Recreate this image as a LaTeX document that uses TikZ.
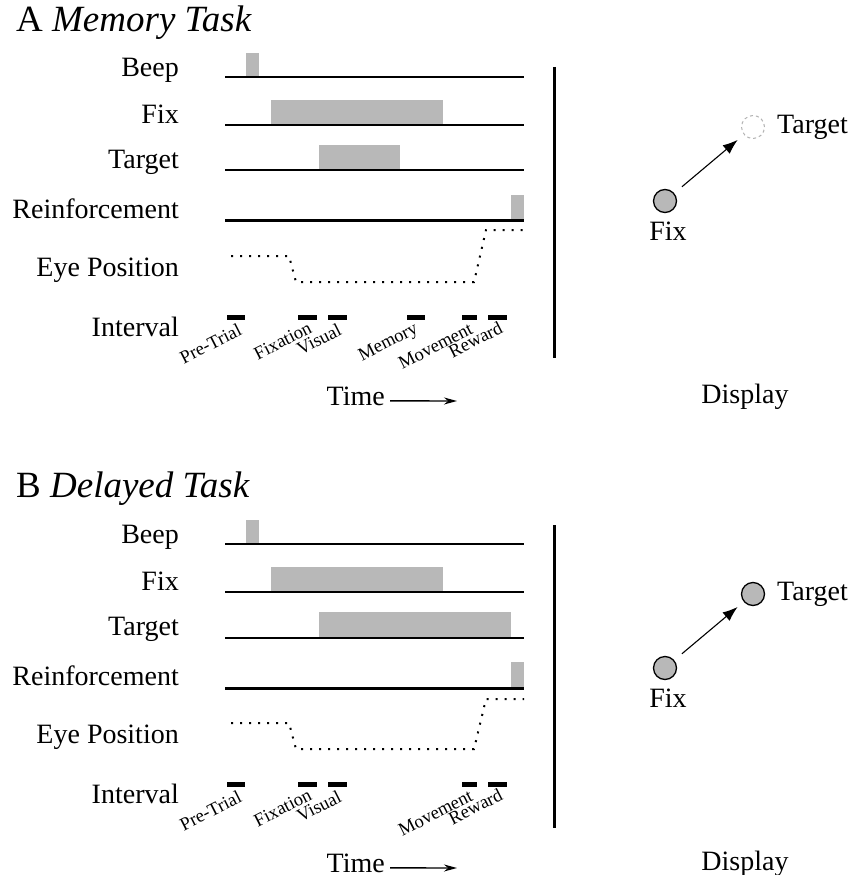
\documentclass[tikz,border=0pt]{standalone}
\usepackage{fontspec}
\setmainfont{Liberation Serif}
\usetikzlibrary{calc, arrows.meta}
\definecolor{pulsegray}{gray}{0.72}

\begin{document}
\begin{tikzpicture}[x=1pt, y=-1pt]
			\tikzstyle{title}=[anchor=base west, inner sep=0pt, font=\fontsize{37}{37}\selectfont]
			\tikzstyle{row}=[anchor=base east, inner sep=0pt, font=\fontsize{28}{28}\selectfont]
			\tikzstyle{screenlab}=[inner sep=0pt, font=\fontsize{28}{28}\selectfont]
			\tikzstyle{phase}=[anchor=base east, inner sep=0pt, rotate=27, font=\fontsize{18.5}{18.5}\selectfont]
			\tikzstyle{track}=[line width=2.2pt]
			\tikzstyle{pulse}=[fill=pulsegray, draw=none]
			\tikzstyle{gaze}=[line width=2pt, dash pattern=on 2pt off 7pt]
			\tikzstyle{bar}=[line width=5pt]
			\tikzstyle{spot}=[circle, draw, line width=1.3pt, fill=pulsegray, minimum size=23pt, inner sep=0pt]
			\tikzstyle{ghost}=[circle, draw=gray!60, dashed, line width=1pt, minimum size=23pt, inner sep=0pt]
			\tikzstyle{saccade}=[-{Latex[length=15pt,width=11pt]}, line width=1.1pt, shorten <=10pt, shorten >=8pt]
			\tikzstyle{timearrow}=[-{Stealth[length=13pt,width=7pt]}, line width=1.4pt]
			\def\xl{225};
			\def\xr{524};
			\def\xlab{179};
			\def\yint{317};

			\clip (0,0) rectangle (862,875);

			\begin{scope}
				\node [title] (titleA) at (16,32) {A \textit{Memory Task}};
				\node [row] (beepA) at (\xlab,76) {Beep};
				\node [row] (fixA) at (\xlab,123) {Fix};
				\node [row] (tgtA) at (\xlab,168) {Target};
				\node [row] (rfA) at (\xlab,218) {Reinforcement};
				\node [row] (eyeA) at (\xlab,276) {Eye Position};
				\node [row] (intA) at (\xlab,336) {Interval};
			\end{scope}

			\begin{scope}
				\fill [pulse] (246,53) rectangle (259,77);
				\fill [pulse] (271,100) rectangle (443,125);
				\fill [pulse] (319,145) rectangle (400,170);
				\fill [pulse] (511,195) rectangle (\xr,220);
				\draw [track] (\xl,77) -- (\xr,77);
				\draw [track] (\xl,125) -- (\xr,125);
				\draw [track] (\xl,170) -- (\xr,170);
				\draw [line width=3pt] (\xl,220) -- (\xr,220);
				\draw [gaze] (231,256) -- (289,256) -- (296,282) -- (474,282) -- (486,230) -- (\xr,230);
			\end{scope}

			\begin{scope}
				\draw [bar] (227,\yint) -- (245,\yint);
				\draw [bar] (298,\yint) -- (317,\yint);
				\draw [bar] (328,\yint) -- (347,\yint);
				\draw [bar] (407,\yint) -- (425,\yint);
				\draw [bar] (462,\yint) -- (477,\yint);
				\draw [bar] (488,\yint) -- (507,\yint);
				\node [phase] (pretrialA) at (243,334) {Pre-Trial};
				\node [phase] (fixationA) at (313,332) {Fixation};
				\node [phase] (visualA) at (343,334) {Visual};
				\node [phase] (memoryA) at (419,332) {Memory};
				\node [phase] (movementA) at (474,333) {Movement};
				\node [phase] (rewardA) at (504,332) {Reward};
			\end{scope}

			\begin{scope}
				\node [row] (timeA) at (385,405) {Time};
				\coordinate (timeendA) at (457,401);
				\draw [timearrow] ([xshift=5pt,yshift=-5pt]timeA.east) -- (timeendA);
			\end{scope}

			\begin{scope}
				\draw [line width=3pt] (554,67) -- (554,358);
				\node [spot] (fixdotA) at (665,201) {};
				\node [ghost] (tgtdotA) at (753,127) {};
				\draw [saccade] (fixdotA) -- (tgtdotA);
				\node [screenlab, anchor=base] (fixlabA) at (668,240) {Fix};
				\node [screenlab, anchor=base west] (tgtlabA) at (777,133) {Target};
				\node [screenlab, anchor=base] (displayA) at (745,403) {Display};
			\end{scope}

			\begin{scope}[shift={(0,467)}]
				\node [title] (titleB) at (16,30) {B \textit{Delayed Task}};
				\node [row] (beepB) at (\xlab,76) {Beep};
				\node [row] (fixB) at (\xlab,123) {Fix};
				\node [row] (tgtB) at (\xlab,168) {Target};
				\node [row] (rfB) at (\xlab,218) {Reinforcement};
				\node [row] (eyeB) at (\xlab,276) {Eye Position};
				\node [row] (intB) at (\xlab,336) {Interval};

				\fill [pulse] (246,53) rectangle (259,77);
				\fill [pulse] (271,100) rectangle (443,125);
				\fill [pulse] (319,145) rectangle (511,171);
				\fill [pulse] (511,195) rectangle (\xr,221);
				\draw [track] (\xl,77) -- (\xr,77);
				\draw [track] (\xl,125) -- (\xr,125);
				\draw [track] (\xl,171) -- (\xr,171);
				\draw [line width=3pt] (\xl,221) -- (\xr,221);
				\draw [gaze] (231,256) -- (289,256) -- (296,282) -- (474,282) -- (486,232) -- (\xr,232);

				\draw [bar] (227,\yint) -- (245,\yint);
				\draw [bar] (298,\yint) -- (317,\yint);
				\draw [bar] (328,\yint) -- (347,\yint);
				\draw [bar] (462,\yint) -- (477,\yint);
				\draw [bar] (488,\yint) -- (507,\yint);
				\node [phase] (pretrialB) at (243,334) {Pre-Trial};
				\node [phase] (fixationB) at (313,332) {Fixation};
				\node [phase] (visualB) at (343,334) {Visual};
				\node [phase] (movementB) at (474,333) {Movement};
				\node [phase] (rewardB) at (504,332) {Reward};

				\node [row] (timeB) at (385,405) {Time};
				\coordinate (timeendB) at (457,401);
				\draw [timearrow] ([xshift=5pt,yshift=-5pt]timeB.east) -- (timeendB);

				\draw [line width=3pt] (554,58) -- (554,361);
				\node [spot] (fixdotB) at (665,201) {};
				\node [spot] (tgtdotB) at (753,127) {};
				\draw [saccade] (fixdotB) -- (tgtdotB);
				\node [screenlab, anchor=base] (fixlabB) at (668,240) {Fix};
				\node [screenlab, anchor=base west] (tgtlabB) at (777,133) {Target};
				\node [screenlab, anchor=base] (displayB) at (745,403) {Display};
			\end{scope}
		\end{tikzpicture}
\end{document}
